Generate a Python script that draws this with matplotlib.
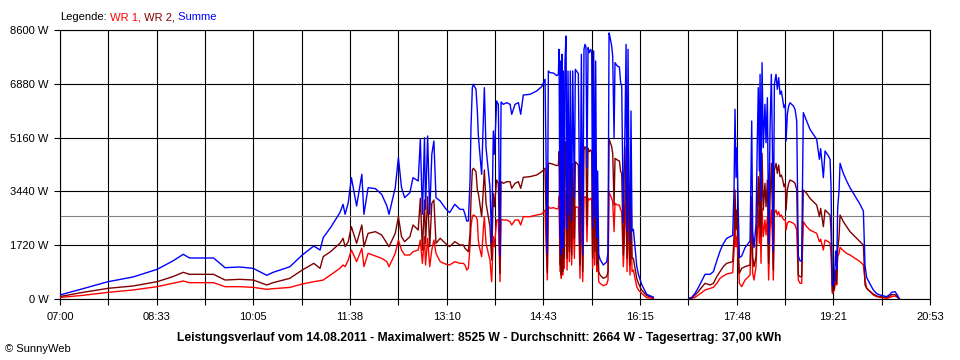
import matplotlib
matplotlib.use('Agg')
import matplotlib.pyplot as plt
import numpy as np

plt.rcParams['font.family'] = ['Liberation Sans', 'DejaVu Sans']

nan = np.nan

# time axis: minutes after 07:00
TIME_MIN = [
    0, 22, 46, 70, 93, 108, 118, 124, 147, 158, 172, 185, 198, 204, 220,
    232, 243, 249, 252, 259, 268, 271, 273, 276, 279, 284, 289, 291, 295, 302,
    308, 313, 315, 321, 324, 327, 330, 335, 338, 343, 345, 347, 349, 350, 352,
    354, 356, 358, 360, 364, 369, 373, 378, 383,
    386.2, 387.8, 389.4, 391.0, 392.6, 393.5, 394.8, 395.8, 398.3, 399.6, 400.5,
    401.5, 403.7, 405.3, 406.3, 407.9, 410.1, 411.7, 413.3, 414.9, 415.9, 418.1,
    419.7, 421.3, 422.3, 424.5, 427.7, 430.9, 432.5, 435.7, 438.9, 441.1, 443.6,
    450.0, 456.4, 461.2, 464.4, 466.6, 467.6,
    469.2, 472.4, 475.6, 477.2, 477.8, 478.8, 479.4, 480.0, 480.7, 481.3, 481.9,
    482.9, 483.5, 484.5, 485.5, 486.4, 487.7, 488.6, 489.9, 490.9, 492.5, 493.4,
    496.3, 497.9, 499.2, 500.5, 501.7, 502.7, 503.6, 504.6, 505.6, 506.8, 508.1,
    509.1, 510.0, 511.0, 511.9, 512.9, 513.9, 514.8, 515.8, 517.1, 520.2, 523.4,
    524.7, 525.7, 526.6, 528.2, 529.2, 530.5, 531.4, 533.6, 535.6, 536.8, 537.8,
    539.4, 541.0, 542.0, 542.9, 543.9, 544.8, 545.8, 546.7, 547.7, 549.0, 550.6,
    552.2, 553.8, 556.9, 561.7, 568.1,
    585,
    602.6, 604.8, 608.0, 611.2, 614.4, 617.6, 622.4, 625.6, 628.8, 632.0, 635.1,
    638.3, 644.1, 645.4, 646.3, 647.3, 648.2, 649.5, 650.5, 652.7, 655.9, 660.7,
    662.3, 663.2, 664.5, 666.4, 667.7, 668.6, 669.6, 670.3, 671.2, 672.2, 673.4,
    675.0, 676.0, 677.3, 678.5, 679.8, 681.1, 682.1, 683.0, 684.0, 685.6, 686.8,
    688.1, 689.4, 690.7, 692.0, 693.2, 694.5, 695.2, 696.4, 697.7, 699.0, 702.2,
    703.8, 705.4,
    706.9, 708.6, 710.1, 711.7, 714.9, 718.1, 721.3, 724.5, 727.1, 728.3, 730.9,
    732.5, 735.7, 737.3, 738.2, 739.5, 741.4, 742.7, 743.7, 744.6, 745.9, 746.9,
    750.0, 753.2, 756.4, 761.2, 766.0, 769.2, 770.8, 772.4, 774.0, 777.2, 778.8,
    782.0, 785.2, 791.5, 794.7, 796.3, 799.5, 801.7, 803.7,
]

# WR 1 (red)
WR1_W = [
    50, 117, 213, 288, 394, 501, 575, 522, 522, 394, 394, 373, 309, 330, 370,
    480, 554, 586, 607, 767, 980, 1087, 1034, 1247, 1567, 1194, 1620, 1034, 1460, 1375,
    1300, 1194, 1034, 1460, 1886, 1567, 1407, 1407, 1513, 1567, 1886, 1140, 1993, 1087, 1940,
    1034, 1567, 1886, 1460, 1194, 1119, 1087, 1194, 1140,
    1140, 1087, 927, 980, 1673, 2312, 2632, 2686, 2632, 2526, 1886,
    1673, 1353, 2206, 2632, 1780, 1460, 1247, 554, 1993, 1673, 2526,
    2526, 554, 2547, 2526, 2526, 2472, 2366, 2526, 2526, 2366, 2632,
    2632, 2686, 2717, 2845, 610, 2952,
    2899, 2920, 2877, 2899, 3272, 874, 3112, 661, 3218, 767, 3005,
    980, 3112, 3378, 927, 2952, 1194, 2952, 1087, 2952, 1300, 2952,
    2920, 661, 3218, 554, 3218, 3272, 3240, 1833, 3218, 3165, 3218,
    3165, 980, 3218, 1087, 3112, 874, 1726, 554, 501, 426, 469,
    607, 3400, 3346, 3218, 3112, 2153, 3059, 3005, 3005, 2845, 2792,
    1034, 2366, 3272, 874, 3218, 1513, 767, 2579, 874, 927, 661,
    394, 288, 181, 43, 20,
    nan,
    10, 20, 53, 128, 202, 288, 341, 373, 501, 661, 735,
    799, 842, 1567, 2579, 1673, 1993, 1140, 501, 394, 607, 767,
    2419, 821, 607, 1034, 2206, 2845, 1780, 2845, 1140, 2899, 1993,
    2526, 2046, 2632, 607, 2206, 2845, 1993, 607, 2739, 2845, 2686,
    2792, 2632, 2686, 2579, 2526, 2526, 2206, 2419, 2472, 2472, 2419,
    2366, 2206,
    607, 501, 501, 2472, 2312, 2206, 2153, 2099, 1833, 1908, 1567,
    1886, 1833, 1780, 1460, 181, 288, 607, 448, 1353, 1460, 1652,
    1545, 1460, 1407, 1300, 1194, 1087, 607, 341, 290, 180, 128,
    75, 53, 21, 53, 75, 96, 53, 0,
]

# WR 2 (dark red)
WR2_W = [
    80, 213, 341, 416, 554, 714, 853, 789, 789, 607, 629, 607, 448, 522, 660,
    927, 1140, 980, 1353, 1513, 1780, 1940, 1673, 1833, 2312, 1780, 2366, 1673, 2099, 2153,
    2046, 1780, 1673, 2099, 2632, 1993, 1833, 1993, 2366, 2206, 3218, 1567, 3165, 1780, 3272,
    1673, 3059, 3165, 1780, 1940, 1780, 1673, 1833, 1726,
    1726, 1620, 1567, 1513, 2099, 3165, 4124, 4178, 4071, 3485, 3378,
    3165, 2632, 3485, 4124, 3059, 2632, 2312, 1247, 3378, 2952, 3804,
    3698, 821, 3751, 3698, 3751, 3751, 3538, 3698, 3751, 3538, 3890,
    3911, 3964, 4071, 4178, 850, 4337,
    4337, 4305, 4263, 4284, 4710, 1087, 4497, 767, 4604, 874, 4284,
    1300, 4497, 5030, 1300, 4337, 1513, 4337, 1407, 4337, 1940, 4390,
    4284, 1087, 4604, 874, 4764, 4870, 4817, 2366, 4817, 4710, 4764,
    4710, 1300, 4710, 1513, 4497, 1087, 2366, 874, 767, 661, 714,
    874, 5105, 5030, 4870, 4657, 3005, 4497, 4444, 4412, 4071, 4018,
    1407, 3218, 4870, 1300, 4764, 2153, 1087, 3431, 1300, 1300, 980,
    661, 501, 288, 107, 40,
    nan,
    20, 30, 128, 234, 373, 501, 448, 501, 714, 874, 1034,
    1140, 1194, 1993, 3485, 2206, 2845, 1567, 821, 980, 1034, 1087,
    3272, 1353, 1034, 1353, 2952, 3911, 2312, 4337, 1993, 4657, 2845,
    3698, 2952, 3804, 1140, 3165, 4337, 2845, 927, 4124, 4337, 4018,
    4284, 3911, 3964, 3804, 3591, 3698, 2845, 3485, 3698, 3804, 3751,
    3698, 3485,
    767, 714, 714, 3485, 3378, 3218, 3112, 3005, 2632, 2899, 2312,
    2845, 2739, 2686, 2206, 234, 309, 927, 501, 1567, 1993, 2686,
    2472, 2312, 2153, 1993, 1833, 1726, 448, 341, 290, 200, 160,
    96, 75, 53, 96, 139, 139, 75, 0,
]

X_LABELS = ['07:00', '08:33', '10:05', '11:38', '13:10',
            '14:43', '16:15', '17:48', '19:21', '20:53']
Y_TICKS = [0, 1720, 3440, 5160, 6880, 8600]
AVERAGE_W = 2664
LEGEND = [('Legende:', 'black'), (' WR 1,', '#ff0000'),
          (' WR 2,', '#800000'), (' Summe', '#0000ff')]
TITLE = ('Leistungsverlauf vom 14.08.2011 - Maximalwert: 8525 W - '
         'Durchschnitt: 2664 W - Tagesertrag: 37,00 kWh')

t = np.array(TIME_MIN, dtype=float)
wr1 = np.array(WR1_W, dtype=float)
wr2 = np.array(WR2_W, dtype=float)
summe = wr1 + wr2

fig = plt.figure(figsize=(9.6, 3.6), dpi=100)
ax = fig.add_axes([60 / 960, 61 / 360, 870 / 960, 269 / 360])

ax.plot(t, wr1, color='#ff0000', lw=1.0, zorder=3)
ax.plot(t, wr2, color='#800000', lw=1.0, zorder=3)
ax.plot(t, summe, color='#0000ff', lw=1.0, zorder=4)
ax.axhline(AVERAGE_W, color='#808080', lw=0.8, zorder=1)

span = 833
ax.set_xlim(0, span)
ax.set_ylim(0, 8600)

n_ticks = 2 * len(X_LABELS) - 1
ax.set_xticks(np.linspace(0, span, n_ticks))
ax.set_xticklabels([X_LABELS[i // 2] if i % 2 == 0 else '' for i in range(n_ticks)])
ax.set_yticks(Y_TICKS)
ax.set_yticklabels([f'{v} W' for v in Y_TICKS])

ax.grid(True, color='black', lw=0.8)
ax.set_axisbelow(True)
for sp in ax.spines.values():
    sp.set_color('black')
    sp.set_linewidth(0.8)
ax.tick_params(direction='out', length=4.3, width=0.8, labelsize=8, colors='black')
ax.tick_params(axis='x', pad=5)
ax.tick_params(axis='y', pad=4)

# coloured legend line above the plot
prev = fig.text(60 / 960, 1 - 17 / 360, LEGEND[0][0], fontsize=8,
                color=LEGEND[0][1], va='center')
for txt, col in LEGEND[1:]:
    prev = ax.annotate(txt, xy=(1, 0), xycoords=prev, va='bottom', ha='left',
                       fontsize=8, color=col, annotation_clip=False)

fig.text(479 / 960, 1 - 338 / 360, TITLE, ha='center', va='center',
         fontsize=8.7, fontweight='bold')
fig.text(5 / 960, 1 - 349 / 360, '\u00a9 SunnyWeb', ha='left', va='center',
         fontsize=8)

fig.savefig('out.png', dpi=100)
